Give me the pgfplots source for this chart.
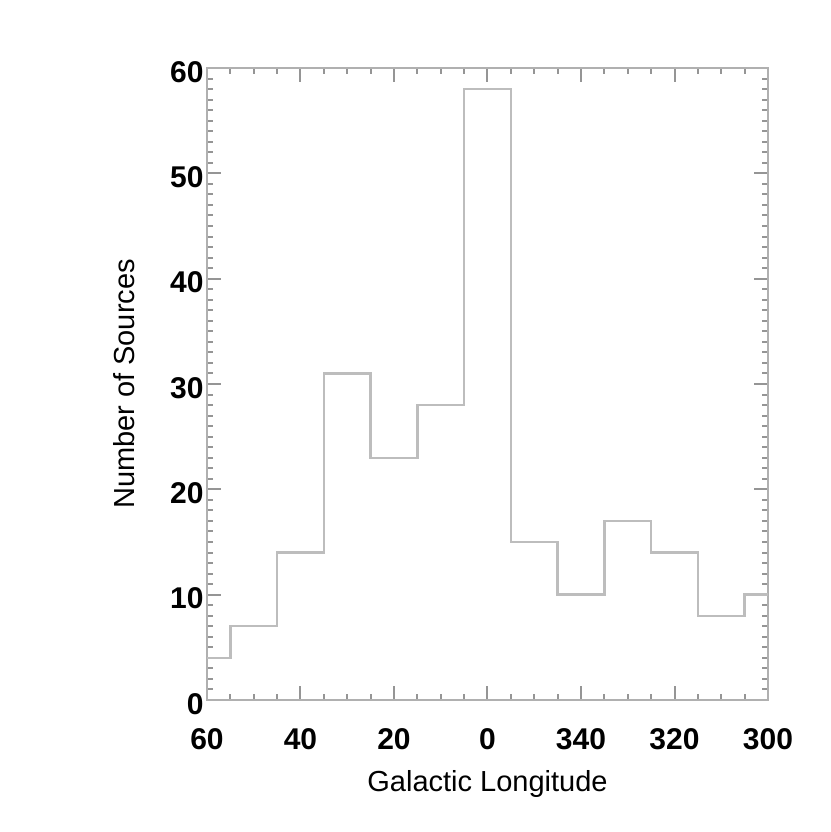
\documentclass[border=0pt]{standalone}
\usepackage{pgfplots}
\pgfplotsset{compat=1.18}
\usepackage{fontspec}
\setmainfont{Liberation Sans}
\definecolor{axgray}{HTML}{B0B0B0}
\definecolor{tickgray}{HTML}{959595}
\definecolor{histgray}{HTML}{BDBDBD}
\begin{document}
\begin{tikzpicture}
\useasboundingbox (0,0) rectangle (830pt,832pt);
\begin{axis}[
  at={(207pt,132pt)}, anchor=south west,
  scale only axis, width=561pt, height=632pt,
  xmin=-60, xmax=60, x dir=reverse, ymin=0, ymax=60,
  xtick={60,40,20,0,-20,-40,-60},
  xticklabels={60,40,20,0,340,320,300},
  minor x tick num=3,
  ytick={0,10,...,60}, minor y tick num=9,
  major tick length=14pt, minor tick length=6pt,
  axis line style={axgray, line width=2.2pt},
  every tick/.style={tickgray, line width=2pt},
  tick label style={font=\fontsize{30}{34}\selectfont\bfseries},
  /pgf/number format/assume math mode=true,
  xticklabel style={yshift=-25pt},
  yticklabel style={yshift=-4pt},
  label style={font=\fontsize{29}{34}\selectfont},
  xlabel={Galactic Longitude},
  ylabel={Number of Sources},
  xlabel style={at={(axis description cs:0.5,-0.133)}, anchor=center},
  ylabel style={at={(axis description cs:-0.148,0.5)}, anchor=center},
]
\addplot[const plot, histgray, line width=2.4pt] coordinates {
  (-60,10) (-55,8) (-45,14) (-35,17) (-25,10) (-15,15) (-5,58)
  (5,28) (15,23) (25,31) (35,14) (45,7) (55,4) (60,4)};
\end{axis}
\end{tikzpicture}
\end{document}
